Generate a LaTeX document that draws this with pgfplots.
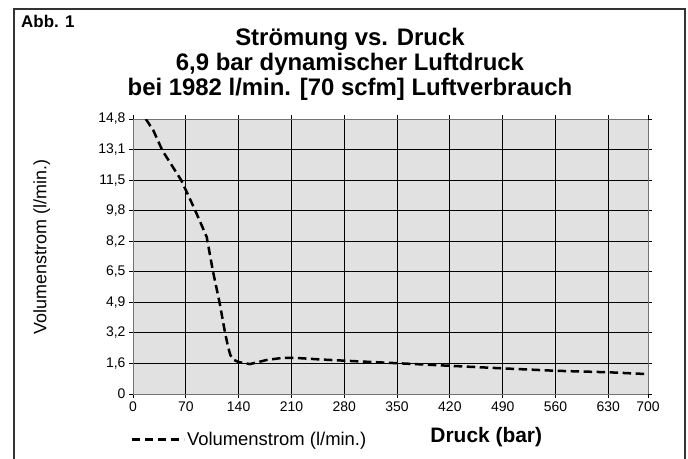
\documentclass[border=0pt]{standalone}
\usepackage{pgfplots}
\pgfplotsset{compat=1.18}
\usepackage{fontspec}
\setmainfont{Liberation Sans}
\definecolor{bg}{HTML}{E1E1E1}
\begin{document}
\begin{tikzpicture}
\useasboundingbox (0bp,0bp) rectangle (688bp,-459bp);
\draw[line width=1.6bp, black!80] (14bp,-460bp) -- (14bp,-9bp) -- (685bp,-9bp) -- (685bp,-460bp);
\node[font=\bfseries\fontsize{17}{19}\selectfont, anchor=west, inner sep=0pt] at (21bp,-21bp) {Abb. 1};
\node[font=\bfseries\fontsize{24}{25}\selectfont, align=center] at (350bp,-64bp) {Strömung vs. Druck\\6,9 bar dynamischer Luftdruck\\bei 1982 l/min. [70 scfm] Luftverbrauch};
\begin{axis}[
  at={(133bp,-394bp)}, anchor=south west,
  scale only axis, width=515bp, height=275bp,
  xmin=0, xmax=682.6, ymin=0, ymax=14.8,
  axis background/.style={fill=bg},
  axis line style={draw=black!55, line width=0.8bp},
  grid=major, major grid style={black, line width=0.8bp},
  tick align=outside, major tick length=4bp,
  tick style={black, line width=0.8bp},
  xtick={0,70,140,210,280,350,420,490,560,630},
  xticklabels={0,70,140,210,280,350,420,490,560,630},
  extra x ticks={682.6}, extra x tick labels={700},
  extra x tick style={grid=none},
  ytick={0,1.6444,3.2889,4.9333,6.5778,8.2222,9.8667,11.5111,13.1556},
  yticklabels={0,1{,}6,3{,}2,4{,}9,6{,}5,8{,}2,9{,}8,11{,}5,13{,}1},
  extra y ticks={14.8}, extra y tick labels={14{,}8},
  extra y tick style={grid=none},
  ticklabel style={font=\fontsize{14}{16}\selectfont},
  ylabel={Volumenstrom (l/min.)},
  ylabel style={at={(axis description cs:-0.177,0.535)}, anchor=center, font=\fontsize{18}{20}\selectfont},
  xlabel={Druck (bar)},
  xlabel style={at={(axis description cs:0.686,-0.158)}, anchor=center, font=\bfseries\fontsize{21}{24}\selectfont},
  legend style={at={(axis description cs:-0.011,-0.165)}, anchor=west, draw=none, fill=none, font=\fontsize{18.5}{20}\selectfont},
  legend image code/.code={\draw[line width=2bp, dash pattern=on 8bp off 5bp] (0bp,0bp) -- (37bp,0bp); \path (0bp,0bp) -- (52bp,0bp);},
]
\addplot[black, line width=2.5bp, dash pattern=on 8.5bp off 4.5bp, line join=round] coordinates {
(17,14.8) (27,14.18) (39,13.1) (64,11.5) (80,10.1) (91,9.08) (97.7,8.45)
(106,6.6) (115,4.87) (122,3.3) (126,2.54) (129,2.1) (133,1.85) (140,1.72)
(155,1.61) (177,1.83) (199,1.95) (213,1.95) (248,1.86) (292,1.77) (354,1.65)
(419,1.52) (490,1.38) (560,1.25) (630,1.17) (682.6,1.07)
};
\addlegendentry{Volumenstrom (l/min.)}
\end{axis}
\end{tikzpicture}
\end{document}
